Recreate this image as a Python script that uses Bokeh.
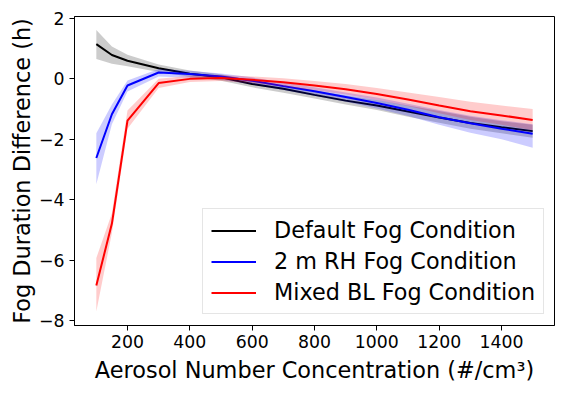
from bokeh.plotting import figure
from bokeh.models import Range1d, FixedTicker, Legend, LegendItem
from bokeh.embed import file_html
from bokeh.resources import INLINE

x = [100, 150, 200, 300, 400, 500, 600, 700, 800, 900, 1000, 1100, 1200, 1300, 1400, 1500]

default_mean = [1.15, 0.79, 0.60, 0.35, 0.17, 0.05, -0.17, -0.33, -0.53, -0.72, -0.88, -1.08, -1.28, -1.46, -1.60, -1.73]
default_upper = [1.62, 1.07, 0.80, 0.48, 0.28, 0.15, -0.05, -0.20, -0.38, -0.55, -0.70, -0.88, -1.06, -1.25, -1.40, -1.52]
default_lower = [0.66, 0.50, 0.42, 0.23, 0.07, -0.06, -0.28, -0.46, -0.65, -0.85, -1.03, -1.25, -1.45, -1.65, -1.80, -1.95]

rh_mean = [-2.62, -1.17, -0.22, 0.21, 0.16, 0.08, -0.06, -0.24, -0.41, -0.60, -0.80, -1.02, -1.27, -1.47, -1.65, -1.82]
rh_upper = [-1.80, -0.85, -0.05, 0.33, 0.27, 0.18, 0.05, -0.12, -0.28, -0.45, -0.62, -0.82, -1.03, -1.22, -1.37, -1.50]
rh_lower = [-3.49, -1.50, -0.42, 0.08, 0.04, -0.03, -0.18, -0.37, -0.56, -0.76, -0.98, -1.23, -1.52, -1.78, -2.00, -2.28]

bl_mean = [-6.84, -4.79, -1.38, -0.14, 0.00, 0.03, -0.03, -0.11, -0.22, -0.34, -0.50, -0.68, -0.88, -1.07, -1.21, -1.36]
bl_upper = [-5.93, -4.45, -1.05, 0.00, 0.10, 0.13, 0.08, 0.02, -0.07, -0.17, -0.30, -0.45, -0.60, -0.76, -0.88, -1.00]
bl_lower = [-7.70, -5.10, -1.65, -0.30, -0.10, -0.07, -0.14, -0.25, -0.38, -0.52, -0.70, -0.90, -1.14, -1.36, -1.52, -1.70]

labels = ["Default Fog Condition", "2 m RH Fog Condition", "Mixed BL Fog Condition"]
colors = ["black", "blue", "red"]

x_ticks = [200, 400, 600, 800, 1000, 1200, 1400]
y_ticks = [-8, -6, -4, -2, 0, 2]

FONT = "DejaVu Sans"

p = figure(width=566, height=393, output_backend="svg", toolbar_location=None,
           x_range=Range1d(30, 1570), y_range=Range1d(-8.165, 2.065),
           min_border_left=74, min_border_right=12, min_border_top=16, min_border_bottom=68)

p.xgrid.visible = False
p.ygrid.visible = False
p.outline_line_color = "black"
p.outline_line_width = 1
p.outline_line_alpha = 1

series = [(default_mean, default_lower, default_upper),
          (rh_mean, rh_lower, rh_upper),
          (bl_mean, bl_lower, bl_upper)]

items = []
for (m, lo, hi), c, lab in zip(series, colors, labels):
    p.varea(x=x, y1=lo, y2=hi, fill_color=c, fill_alpha=0.2)
    r = p.line(x, m, line_color=c, line_width=2)
    items.append(LegendItem(label=lab, renderers=[r]))

for ax in (p.xaxis[0], p.yaxis[0]):
    ax.major_label_text_font = FONT
    ax.major_label_text_font_size = "17.3px"
    ax.major_label_text_color = "black"
    ax.axis_label_text_font = FONT
    ax.axis_label_text_font_size = "22.4px"
    ax.axis_label_text_font_style = "normal"
    ax.axis_label_text_color = "black"
    ax.major_tick_in = 0
    ax.major_tick_out = 5
    ax.minor_tick_in = 0
    ax.minor_tick_out = 0
    ax.axis_line_color = "black"
    ax.major_tick_line_color = "black"

p.xaxis.ticker = FixedTicker(ticks=x_ticks)
p.yaxis.ticker = FixedTicker(ticks=y_ticks)
p.yaxis.major_label_overrides = {t: (("\u2212" + str(-t)) if t < 0 else str(t)) for t in y_ticks}
p.xaxis.major_label_standoff = 4
p.yaxis.major_label_standoff = 5
p.xaxis.axis_label = "Aerosol Number Concentration (#/cm\u00b3)"
p.yaxis.axis_label = "Fog Duration Difference (h)"
p.xaxis.axis_label_standoff = 6
p.yaxis.axis_label_standoff = 1

legend = Legend(items=items, location=(128, 11))
legend.label_text_font = FONT
legend.label_text_font_size = "22.3px"
legend.label_text_color = "black"
legend.glyph_width = 45
legend.glyph_height = 25
legend.label_height = 25
legend.label_standoff = 18
legend.spacing = 5
legend.padding = 8
legend.margin = 0
legend.border_line_color = "#cccccc"
legend.border_line_width = 1
legend.background_fill_alpha = 0.8
p.add_layout(legend, "center")

open("out.html", "w").write(file_html(p, INLINE))
